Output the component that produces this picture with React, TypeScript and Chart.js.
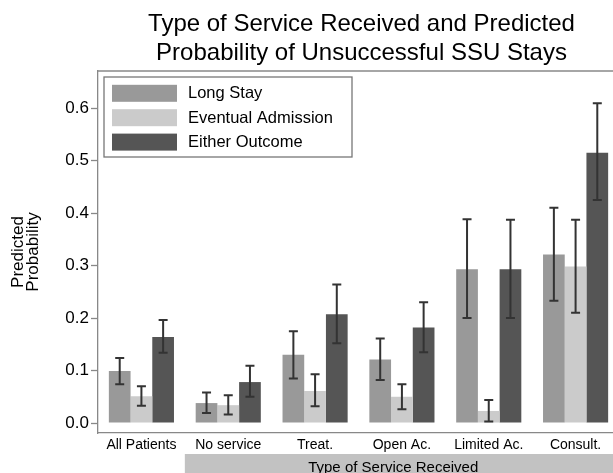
import React, { useEffect, useRef } from "react";
import { Chart, registerables } from "chart.js";

Chart.register(...registerables);

const FONT = "'Liberation Sans', Arial, Helvetica, sans-serif";

const titleLines = ["Type of Service Received and Predicted", "Probability of Unsuccessful SSU Stays"];
const yTitle = ["Predicted", "Probability"];
const bandTitle = "Type of Service Received";

const categories = ["All Patients", "No service", "Treat.", "Open Ac.", "Limited Ac.", "Consult."];
const seriesNames = ["Long Stay", "Eventual Admission", "Either Outcome"];
const seriesColors = ["#999999", "#cbcbcb", "#555555"];

const longStay = [0.099, 0.038, 0.13, 0.121, 0.293, 0.321];
const longStayLo = [0.074, 0.019, 0.085, 0.082, 0.2, 0.233];
const longStayHi = [0.124, 0.058, 0.175, 0.161, 0.388, 0.41];

const eventual = [0.051, 0.034, 0.061, 0.05, 0.023, 0.298];
const eventualLo = [0.033, 0.016, 0.032, 0.026, 0.003, 0.21];
const eventualHi = [0.07, 0.053, 0.093, 0.074, 0.044, 0.387];

const either = [0.164, 0.078, 0.207, 0.182, 0.293, 0.515];
const eitherLo = [0.134, 0.05, 0.152, 0.135, 0.2, 0.425];
const eitherHi = [0.196, 0.109, 0.264, 0.23, 0.387, 0.609];

const yTicks = [0, 0.1, 0.2, 0.3, 0.4, 0.5, 0.6];

const lows = [longStayLo, eventualLo, eitherLo];
const highs = [longStayHi, eventualHi, eitherHi];

const decorPlugin = {
  id: "decor",
  afterDatasetsDraw(chart: any) {
    const ctx = chart.ctx;
    const y = chart.scales.y;
    ctx.save();
    ctx.strokeStyle = "#333333";
    ctx.lineWidth = 2;
    chart.data.datasets.forEach((_ds: any, di: number) => {
      const meta = chart.getDatasetMeta(di);
      meta.data.forEach((bar: any, i: number) => {
        const x = bar.x;
        const yl = y.getPixelForValue(lows[di][i]);
        const yh = y.getPixelForValue(highs[di][i]);
        const cap = 4.5;
        ctx.beginPath();
        ctx.moveTo(x, yl);
        ctx.lineTo(x, yh);
        ctx.moveTo(x - cap, yl);
        ctx.lineTo(x + cap, yl);
        ctx.moveTo(x - cap, yh);
        ctx.lineTo(x + cap, yh);
        ctx.stroke();
      });
    });
    ctx.restore();
  },
  afterDraw(chart: any) {
    const ctx = chart.ctx;
    const area = chart.chartArea;
    const xs = chart.scales.x;
    ctx.save();
    // top frame line
    ctx.strokeStyle = "#888888";
    ctx.lineWidth = 1.3;
    ctx.beginPath();
    ctx.moveTo(area.left, area.top);
    ctx.lineTo(chart.width, area.top);
    ctx.stroke();

    // title
    ctx.fillStyle = "#000";
    ctx.font = `24px ${FONT}`;
    ctx.textAlign = "center";
    ctx.textBaseline = "alphabetic";
    const cx = (area.left + area.right) / 2 + 3;
    ctx.fillText(titleLines[0], cx, 30.5);
    ctx.fillText(titleLines[1], cx, 59.5);

    // legend
    const lx = area.left + 6;
    const ly = area.top + 6;
    ctx.strokeStyle = "#777777";
    ctx.lineWidth = 1.3;
    ctx.strokeRect(lx, ly, 248, 80);
    ctx.font = `16.5px ${FONT}`;
    ctx.textAlign = "left";
    ctx.textBaseline = "middle";
    chart.data.datasets.forEach((ds: any, i: number) => {
      const rowY = ly + 16.3 + i * 24.4;
      ctx.fillStyle = ds.backgroundColor;
      ctx.fillRect(lx + 8, rowY - 8.5, 65, 17);
      ctx.fillStyle = "#000";
      ctx.fillText(ds.label, lx + 84, rowY + 0.5);
    });

    // band under categories 2..6
    const bandLeft = xs.getPixelForValue(0.5);
    const bandTop = area.bottom + 21;
    ctx.fillStyle = "#c2c2c2";
    ctx.fillRect(bandLeft, bandTop, chart.width - bandLeft, chart.height - bandTop);
    ctx.fillStyle = "#000";
    ctx.font = `15px ${FONT}`;
    ctx.textAlign = "center";
    ctx.textBaseline = "alphabetic";
    ctx.fillText(bandTitle, xs.getPixelForValue(2.9), chart.height - 1.5);
    ctx.restore();
  },
};

export default function App() {
  const ref = useRef<HTMLCanvasElement>(null);
  useEffect(() => {
    const canvas = ref.current;
    if (!canvas) return;
    Chart.defaults.font.family = FONT;
    const chart = new Chart(canvas, {
      type: "bar",
      data: {
        labels: categories,
        datasets: [longStay, eventual, either].map((d, i) => ({
          label: seriesNames[i],
          data: d,
          backgroundColor: seriesColors[i],
          borderWidth: 0,
          barPercentage: 1,
          categoryPercentage: 0.75,
        })),
      },
      options: {
        animation: false,
        responsive: false,
        layout: { padding: { left: 0, right: 1, top: 71, bottom: 0 } },
        plugins: {
          legend: { display: false },
          title: { display: false },
          tooltip: { enabled: false },
        },
        scales: {
          x: {
            afterFit: (s: any) => {
              s.height = 40;
            },
            grid: { display: false, drawTicks: false },
            border: { display: true, color: "#888888", width: 1.3 },
            ticks: {
              color: "#000",
              font: { size: 14, family: FONT },
              padding: 4,
              maxRotation: 0,
              autoSkip: false,
            },
          },
          y: {
            min: -0.019,
            max: 0.6705,
            afterBuildTicks: (s: any) => {
              s.ticks = yTicks.map((v) => ({ value: v }));
            },
            afterFit: (s: any) => {
              s.width = 98;
            },
            grid: {
              drawOnChartArea: false,
              drawTicks: true,
              tickLength: 7,
              tickColor: "#888888",
              tickWidth: 1.3,
            },
            border: { display: true, color: "#888888", width: 1.3 },
            ticks: {
              color: "#000",
              padding: 2,
              autoSkip: false,
              font: { size: 17, family: FONT },
              callback: (v: any) => Number(v).toFixed(1),
            },
            title: {
              display: true,
              text: yTitle,
              color: "#000",
              font: { size: 17, family: FONT, lineHeight: "15px" },
              padding: { top: 11, bottom: 0 },
            },
          },
        },
      },
      plugins: [decorPlugin],
    });
    return () => chart.destroy();
  }, []);

  return (
    <div
      style={{
        position: "fixed",
        left: 0,
        top: 0,
        width: 613,
        height: 473,
        overflow: "hidden",
        background: "#fff",
      }}
    >
      <canvas ref={ref} width={620} height={473} style={{ display: "block" }} />
    </div>
  );
}
